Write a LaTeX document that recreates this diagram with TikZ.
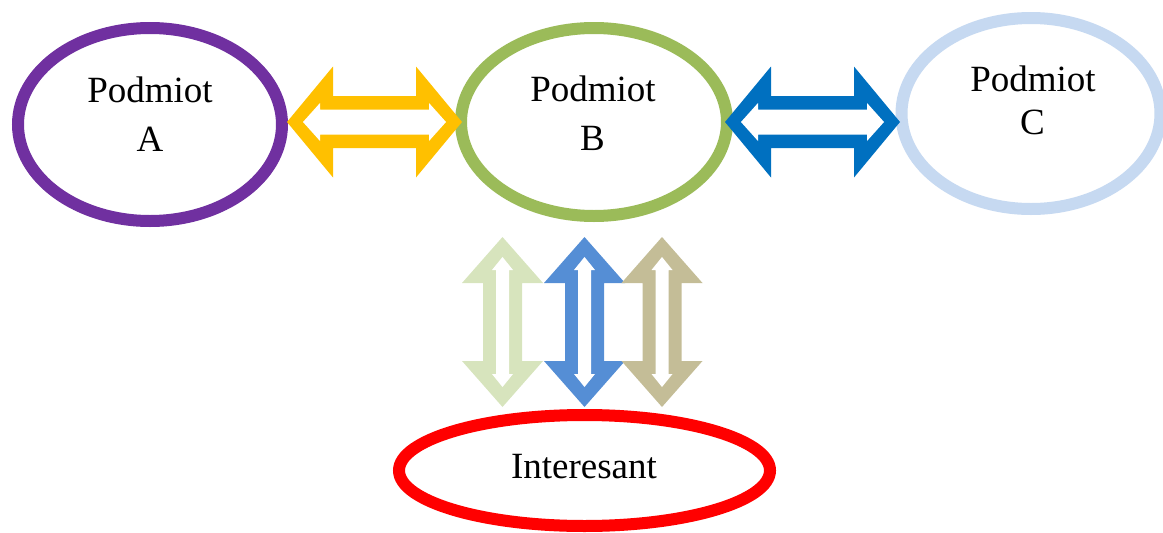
\documentclass[tikz,border=0pt]{standalone}
\usepackage{fontspec}
\setmainfont{Liberation Serif}
\usetikzlibrary{shapes.geometric}
\definecolor{cPurple}{HTML}{7030A0}
\definecolor{cGreen}{HTML}{9BBB59}
\definecolor{cLightBlue}{HTML}{C6D9F1}
\definecolor{cRed}{HTML}{FF0000}
\definecolor{cYellow}{HTML}{FFC000}
\definecolor{cBlue}{HTML}{0070C0}
\definecolor{cPaleGreen}{HTML}{D7E4BD}
\definecolor{cMidBlue}{HTML}{558ED5}
\definecolor{cTan}{HTML}{C4BD97}
% #1 colour, #2 half length, #3 head length, #4 head half width, #5 shaft half width,
% #6 inner tip, #7 inner notch, #8 inner notch half width, #9 inner shaft half width
\newcommand\myBlockArrow[9]{%
  \fill[#1] (-#2,0) -- (-#2+#3,#4) -- (-#2+#3,#5) -- (#2-#3,#5) -- (#2-#3,#4) -- (#2,0)
    -- (#2-#3,-#4) -- (#2-#3,-#5) -- (-#2+#3,-#5) -- (-#2+#3,-#4) -- cycle;
  \fill[white] (-#6,0) -- (-#7,#8) -- (-#7,#9) -- (#7,#9) -- (#7,#8) -- (#6,0)
    -- (#7,-#8) -- (#7,-#9) -- (-#7,-#9) -- (-#7,-#8) -- cycle;
}
\tikzset{
  entity/.style={ellipse, draw, line width=12pt, fill=white, inner sep=0pt},
  lbl/.style={anchor=base, inner sep=0pt, font=\fontsize{37}{44}\selectfont}
}
\begin{document}
\begin{tikzpicture}[x=1pt,y=-1pt]
\useasboundingbox (0,0) rectangle (1163,533);
% ellipses
\node[entity, draw=cPurple, minimum width=264pt, minimum height=193pt] (A) at (150,124.5) {};
\node[entity, draw=cGreen, minimum width=266pt, minimum height=188pt] (B) at (594,122) {};
\node[entity, draw=cLightBlue, minimum width=259pt, minimum height=191pt] (C) at (1031,113.5) {};
\node[entity, draw=cRed, minimum width=371pt, minimum height=111pt] (I) at (584.5,470.5) {};
% labels
\node[lbl] (A1) at (150,102) {Podmiot};
\node[lbl] (A2) at (150,151.7) {A};
\node[lbl] (B1) at (593,101.7) {Podmiot};
\node[lbl] (B2) at (592.5,150) {B};
\node[lbl] (C1) at (1033,91.7) {Podmiot};
\node[lbl] (C2) at (1032.5,134) {C};
\node[lbl] (I1) at (584,478) {Interesant};
% horizontal double arrows
\begin{scope}[shift={(374.5,122)}]
  \myBlockArrow{cYellow}{87.5}{46}{55.5}{26}{71.5}{54.5}{19}{12.5}
\end{scope}
\begin{scope}[shift={(812.5,122)}]
  \myBlockArrow{cBlue}{87.5}{46}{55.5}{26}{71.5}{54.5}{19}{12.5}
\end{scope}
% vertical double arrows
\begin{scope}[shift={(502.5,322)}, rotate=90]
  \myBlockArrow{cPaleGreen}{85}{46}{40.5}{19.5}{65}{52}{10.5}{6.5}
\end{scope}
\begin{scope}[shift={(584.5,322)}, rotate=90]
  \myBlockArrow{cMidBlue}{85}{46}{40.5}{19.5}{65}{52}{10.5}{6.5}
\end{scope}
\begin{scope}[shift={(662,322)}, rotate=90]
  \myBlockArrow{cTan}{85}{46}{40.5}{19.5}{65}{52}{10.5}{6.5}
\end{scope}
\end{tikzpicture}
\end{document}
